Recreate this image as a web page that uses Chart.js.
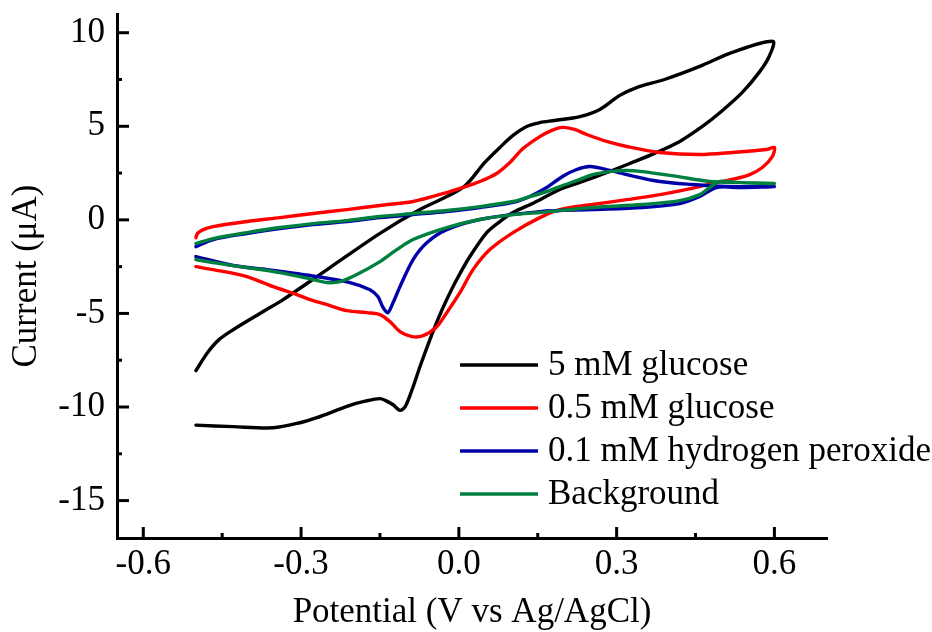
<!DOCTYPE html>
<html>
<head>
<meta charset="utf-8">
<title>Cyclic voltammograms</title>
<script src="https://cdn.jsdelivr.net/npm/chart.js@4.4.0/dist/chart.umd.min.js"></script>
<style>
  html, body { margin: 0; padding: 0; background: #fff; }
  canvas { display: block; }
</style>
</head>
<body>
<canvas id="cv" width="932" height="632"></canvas>
<script>
// potential (V) and current (uA), each loop read anodic first, then back
const glucose5Pot = [-0.50, -0.478, -0.456, -0.429, -0.372, -0.334, -0.245, -0.150, -0.074, 0.008, 0.049, 0.078, 0.103, 0.129, 0.154, 0.182, 0.230, 0.268, 0.306, 0.338, 0.391, 0.458, 0.520, 0.597,
  0.590, 0.571, 0.539, 0.499, 0.463, 0.420, 0.372, 0.325, 0.277, 0.230, 0.192, 0.144, 0.103, 0.078, 0.053, 0.021, -0.004, -0.023, -0.040, -0.055, -0.074, -0.089, -0.102, -0.112, -0.125, -0.139, -0.150, -0.178, -0.207, -0.270, -0.302, -0.353, -0.429, -0.50];
const glucose5Cur = [-8.06, -7.10, -6.40, -5.87, -4.90, -4.26, -2.55, -0.72, 0.55, 1.73, 3.06, 3.87, 4.51, 4.99, 5.20, 5.31, 5.52, 5.90, 6.65, 7.07, 7.50, 8.20, 8.95, 9.54,
  8.73, 7.88, 6.81, 5.79, 4.99, 4.19, 3.55, 3.01, 2.48, 2.00, 1.62, 0.93, 0.39, -0.09, -0.68, -1.96, -3.19, -4.26, -5.33, -6.40, -7.85, -9.08, -9.98, -10.18, -9.88, -9.66, -9.55, -9.69, -9.91, -10.57, -10.84, -11.11, -11.05, -10.97];

const glucose05Pot = [-0.50, -0.497, -0.486, -0.467, -0.403, -0.340, -0.277, -0.213, -0.150, -0.087, -0.023, 0.008, 0.040, 0.072, 0.097, 0.122, 0.154, 0.177, 0.197, 0.220, 0.243, 0.281, 0.319, 0.382, 0.458, 0.520, 0.585, 0.600,
  0.596, 0.577, 0.553, 0.520, 0.490, 0.458, 0.382, 0.319, 0.254, 0.192, 0.154, 0.103, 0.059, 0.027, 0.002, -0.023, -0.042, -0.068, -0.089, -0.112, -0.131, -0.150, -0.175, -0.213, -0.245, -0.283, -0.308, -0.353, -0.403, -0.467, -0.50];
const glucose05Cur = [-0.95, -0.73, -0.52, -0.36, -0.09, 0.12, 0.34, 0.55, 0.77, 0.98, 1.46, 1.73, 2.05, 2.48, 3.06, 3.81, 4.45, 4.78, 4.94, 4.83, 4.56, 4.19, 3.92, 3.60, 3.49, 3.60, 3.76, 3.87,
  3.38, 2.80, 2.42, 2.16, 1.99, 1.78, 1.35, 1.08, 0.82, 0.55, 0.12, -0.68, -1.59, -2.66, -3.89, -4.96, -5.71, -6.19, -6.24, -5.97, -5.44, -5.06, -4.96, -4.85, -4.58, -4.26, -3.99, -3.57, -3.03, -2.66, -2.50];

const peroxidePot = [-0.50, -0.467, -0.403, -0.340, -0.277, -0.213, -0.150, -0.087, -0.023, 0.040, 0.103, 0.135, 0.167, 0.197, 0.224, 0.249, 0.273, 0.319, 0.382, 0.444, 0.509, 0.600,
  0.534, 0.490, 0.458, 0.420, 0.349, 0.254, 0.154, 0.040, -0.023, -0.061, -0.087, -0.112, -0.125, -0.135, -0.144, -0.154, -0.169, -0.207, -0.270, -0.365, -0.429, -0.50];
const peroxideCur = [-1.43, -1.05, -0.73, -0.47, -0.25, -0.09, 0.12, 0.28, 0.44, 0.66, 0.93, 1.25, 1.73, 2.32, 2.69, 2.85, 2.74, 2.42, 2.05, 1.89, 1.78, 1.78,
  1.73, 1.73, 1.25, 0.87, 0.66, 0.55, 0.44, 0.02, -0.52, -1.22, -2.12, -3.57, -4.42, -4.96, -4.69, -4.10, -3.73, -3.35, -3.03, -2.66, -2.44, -1.96];

const backgroundPot = [-0.50, -0.467, -0.403, -0.340, -0.277, -0.213, -0.150, -0.087, -0.023, 0.040, 0.103, 0.129, 0.167, 0.192, 0.230, 0.254, 0.287, 0.319, 0.349, 0.414, 0.477, 0.539, 0.600,
  0.534, 0.496, 0.477, 0.458, 0.420, 0.349, 0.254, 0.154, 0.103, 0.040, -0.023, -0.087, -0.118, -0.150, -0.194, -0.226, -0.251, -0.277, -0.340, -0.403, -0.467, -0.50];
const backgroundCur = [-1.27, -1.00, -0.68, -0.41, -0.20, -0.04, 0.18, 0.34, 0.50, 0.71, 0.98, 1.19, 1.51, 1.78, 2.16, 2.42, 2.58, 2.64, 2.58, 2.32, 2.05, 1.99, 1.94,
  1.99, 2.05, 1.73, 1.35, 1.03, 0.82, 0.66, 0.39, 0.28, 0.02, -0.41, -1.05, -1.59, -2.23, -2.92, -3.30, -3.35, -3.19, -2.82, -2.55, -2.28, -2.12];

const seriesNames = ['5 mM glucose', '0.5 mM glucose', '0.1 mM hydrogen peroxide', 'Background'];
const xTicks = [-0.6, -0.3, 0.0, 0.3, 0.6];
const yTicks = [-15, -10, -5, 0, 5, 10];

const SERIF = '"Liberation Serif", "Times New Roman", serif';

function toPoints(xs, ys) {
  return xs.map((x, i) => ({ x: x, y: ys[i] }));
}

function midpoints(arr) {
  const out = [];
  for (let i = 0; i < arr.length - 1; i++) out.push((arr[i] + arr[i + 1]) / 2);
  return out;
}

function loop(i, xs, ys, color, order) {
  return {
    label: seriesNames[i],
    data: toPoints(xs, ys),
    showLine: true,
    borderColor: color,
    backgroundColor: color,
    borderWidth: 3.4,
    pointRadius: 0,
    tension: 0.3,
    borderJoinStyle: 'round',
    borderCapStyle: 'round',
    order: order
  };
}

// inward ticks + legend box inside the plot
const frame = {
  id: 'frame',
  afterDraw(chart) {
    const ctx = chart.ctx;
    const a = chart.chartArea;
    const sx = chart.scales.x, sy = chart.scales.y;
    ctx.save();
    ctx.strokeStyle = '#000';
    ctx.lineWidth = 3;

    const tickX = (v, len) => {
      const p = sx.getPixelForValue(v);
      ctx.beginPath(); ctx.moveTo(p, a.bottom); ctx.lineTo(p, a.bottom - len); ctx.stroke();
    };
    const tickY = (v, len) => {
      const p = sy.getPixelForValue(v);
      ctx.beginPath(); ctx.moveTo(a.left, p); ctx.lineTo(a.left + len, p); ctx.stroke();
    };
    xTicks.forEach(v => tickX(v, 11));
    midpoints(xTicks).forEach(v => tickX(v, 5));
    yTicks.forEach(v => tickY(v, 12));
    midpoints(yTicks).forEach(v => tickY(v, 5));

    // legend
    ctx.font = '35px ' + SERIF;
    ctx.textBaseline = 'middle';
    ctx.fillStyle = '#000';
    ctx.lineWidth = 3.4;
    chart.data.datasets.forEach((ds, i) => {
      const y = 365 + i * 43;
      ctx.strokeStyle = ds.borderColor;
      ctx.beginPath(); ctx.moveTo(460, y); ctx.lineTo(538, y); ctx.stroke();
      ctx.fillText(ds.label, 548, y + 1);
    });
    ctx.restore();
  }
};

function noPad(s) {
  s.paddingTop = 0; s.paddingBottom = 0; s.paddingLeft = 0; s.paddingRight = 0;
}

new Chart(document.getElementById('cv'), {
  type: 'scatter',
  data: {
    datasets: [
      loop(0, glucose5Pot, glucose5Cur, '#000000', 4),
      loop(1, glucose05Pot, glucose05Cur, '#ff0000', 3),
      loop(2, peroxidePot, peroxideCur, '#0000a8', 2),
      loop(3, backgroundPot, backgroundCur, '#008040', 1)
    ]
  },
  options: {
    responsive: false,
    animation: false,
    layout: { padding: { top: 14, right: 105, bottom: 0, left: 0 } },
    plugins: { legend: { display: false }, tooltip: { enabled: false } },
    scales: {
      x: {
        type: 'linear',
        min: -0.65,
        max: 0.7,
        afterBuildTicks: s => { s.ticks = xTicks.map(v => ({ value: v })); },
        afterFit: s => { s.height = 94; noPad(s); },
        grid: { display: false, drawTicks: false },
        border: { display: true, width: 3, color: '#000' },
        ticks: {
          color: '#000',
          padding: 6,
          font: { family: SERIF, size: 35 },
          callback: v => v.toFixed(1)
        },
        title: {
          display: true,
          text: 'Potential (V vs Ag/AgCl)',
          color: '#000',
          font: { family: SERIF, size: 35, lineHeight: 1 },
          padding: { top: 0, bottom: 2 }
        }
      },
      y: {
        type: 'linear',
        min: -17,
        max: 11,
        afterBuildTicks: s => { s.ticks = yTicks.map(v => ({ value: v })); },
        afterFit: s => { s.width = 117; noPad(s); },
        grid: { display: false, drawTicks: false },
        border: { display: true, width: 3, color: '#000' },
        ticks: {
          color: '#000',
          padding: 12,
          font: { family: SERIF, size: 35 },
          callback: v => String(v)
        },
        title: {
          display: true,
          text: 'Current (\u03bcA)',
          color: '#000',
          font: { family: SERIF, size: 35, lineHeight: 1 },
          padding: { top: 9, bottom: 0 }
        }
      }
    }
  },
  plugins: [frame]
});
</script>
</body>
</html>
